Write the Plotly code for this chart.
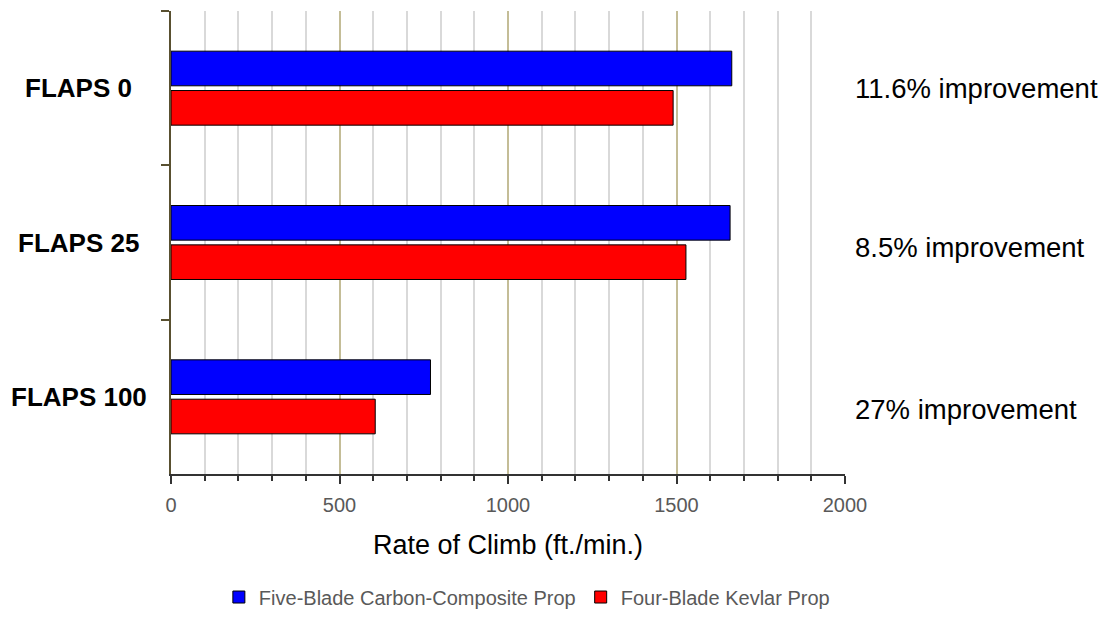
import plotly.graph_objects as go

categories = ["FLAPS 0", "FLAPS 25", "FLAPS 100"]
five_blade = [1664, 1659, 770]
four_blade = [1490, 1528, 606]
series_names = ["Five-Blade Carbon-Composite Prop", "Four-Blade Kevlar Prop"]
improvements = ["11.6% improvement", "8.5% improvement", "27% improvement"]
x_ticks = [0, 500, 1000, 1500, 2000]

FONT = "Liberation Sans, Arial, sans-serif"

fig = go.Figure()
fig.add_trace(go.Bar(y=categories, x=five_blade, orientation="h", name=series_names[0],
                     marker=dict(color="#0000FF", line=dict(color="#000000", width=1))))
fig.add_trace(go.Bar(y=categories, x=four_blade, orientation="h", name=series_names[1],
                     marker=dict(color="#FF0000", line=dict(color="#000000", width=1))))

# category labels, centred left of the axis
for cat in categories:
    fig.add_annotation(x=-0.1365, xref="paper", y=cat, yref="y", text="<b>" + cat + "</b>",
                       showarrow=False, xanchor="center", yanchor="middle",
                       font=dict(family=FONT, size=26, color="#000000"))

imp_offsets = [0, -5, -13]
for cat, txt, dy in zip(categories, improvements, imp_offsets):
    fig.add_annotation(x=1.0, xref="paper", y=cat, yref="y", text=txt, showarrow=False,
                       xanchor="left", yanchor="middle", xshift=8, yshift=dy,
                       font=dict(family=FONT, size=27.5, color="#000000"))

fig.update_layout(
    width=1096, height=615,
    margin=dict(l=163, r=259, t=3, b=149),
    plot_bgcolor="white", paper_bgcolor="white",
    barmode="group", bargap=0.49, bargroupgap=0.12,
    font=dict(family=FONT, color="#595959"),
    showlegend=True,
    legend=dict(orientation="h", x=0.528, xanchor="center", y=-0.2657, yanchor="middle",
                font=dict(family=FONT, size=20, color="#595959"), traceorder="normal",
                itemwidth=30),
    xaxis=dict(range=[0, 2000], tickvals=x_ticks, showgrid=True, gridcolor="#C4BD97", gridwidth=1.5,
               ticks="outside", ticklen=8, tickcolor="#333333", tickwidth=2,
               showline=True, linecolor="#333333", linewidth=2,
               minor=dict(dtick=100, showgrid=True, gridcolor="#D9D9D9", gridwidth=1.5,
                          ticks="outside", ticklen=5, tickcolor="#333333", tickwidth=2),
               tickfont=dict(family=FONT, size=20, color="#595959"),
               ticklabelstandoff=4,
               title=dict(text="Rate of Climb (ft./min.)", standoff=20,
                          font=dict(family=FONT, size=27, color="#000000")),
               zeroline=False),
    yaxis=dict(autorange="reversed", showticklabels=False, ticks="outside", ticklen=8,
               tickson="boundaries", tickcolor="#595030", tickwidth=2,
               showline=True, linecolor="#595030", linewidth=2, showgrid=False),
)

fig.write_html("out.html")
